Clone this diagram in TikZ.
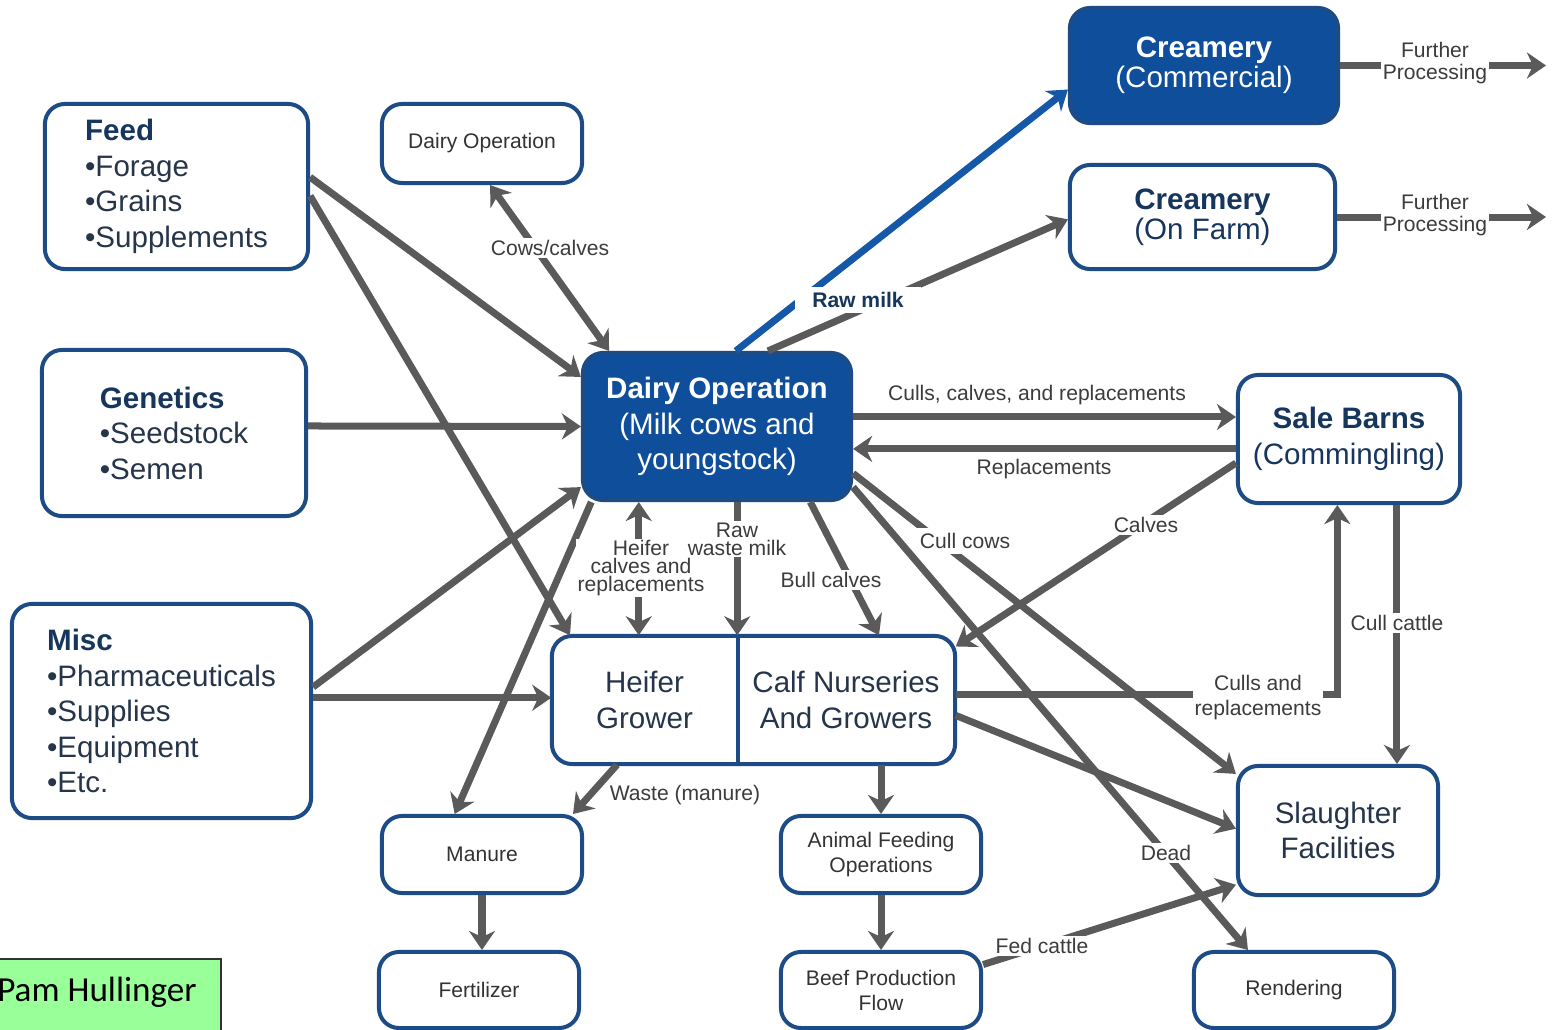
\documentclass[tikz,border=0pt]{standalone}
\usepackage{fontspec}
\setmainfont{Liberation Sans}
\newfontfamily\pamfont{Carlito}
\usetikzlibrary{arrows.meta}

\definecolor{boxblue}{HTML}{1D4B85}
\definecolor{fillblue}{HTML}{0E4E9B}
\definecolor{rawblue}{HTML}{1558A8}
\definecolor{headblue}{HTML}{17365D}
\definecolor{textdark}{HTML}{26354A}
\definecolor{smallgray}{HTML}{333333}
\definecolor{arrowgray}{HTML}{5A5A5A}
\definecolor{lblgray}{HTML}{3C3C3C}
\definecolor{pamgreen}{HTML}{99FF99}

\newcommand{\boxfont}{\fontsize{8.4}{10.1}\selectfont}
\newcommand{\smallboxfont}{\fontsize{6}{7.1}\selectfont}
\newcommand{\lblfont}{\fontsize{6}{7.1}\selectfont}

\tikzset{
  box/.style={draw=boxblue,line width=0.04cm,rounded corners=0.2cm,fill=white,inner sep=0pt,align=center},
  listbox/.style={box,align=left,font=\boxfont,text=textdark},
  bigbox/.style={box,font=\boxfont,text=textdark},
  smallbox/.style={box,font=\smallboxfont,text=smallgray,minimum width=2cm},
  bluebox/.style={box,fill=fillblue,text=white,font=\boxfont},
  flow/.style={draw=arrowgray,line width=0.07cm,-{Stealth[length=0.19cm,width=0.26cm,inset=0.06cm]}},
  dflow/.style={flow,{Stealth[length=0.19cm,width=0.26cm,inset=0.06cm]}-{Stealth[length=0.19cm,width=0.26cm,inset=0.06cm]}},
  blueflow/.style={flow,draw=rawblue},
  lbl/.style={font=\lblfont,text=lblgray,fill=white,inner sep=0.02cm,align=center}
}

\begin{document}
\begin{tikzpicture}[x=0.01cm,y=-0.01cm]

  \useasboundingbox (0,0) rectangle (1553,1030);

  % inputs on the left
  \node[listbox,minimum width=2.63cm,minimum height=1.65cm] (feed) at (176.5,186.5)
    {\textbf{\color{headblue}Feed}\\•Forage\\•Grains\\•Supplements};
  \node[listbox,minimum width=2.64cm,minimum height=1.66cm] (gen) at (174,433)
    {\textbf{\color{headblue}Genetics}\\•Seedstock\\•Semen};
  \node[listbox,minimum width=2.99cm,minimum height=2.14cm] (misc) at (161.5,711)
    {\textbf{\color{headblue}Misc}\\•Pharmaceuticals\\•Supplies\\•Equipment\\•Etc.};

  % dairy and creameries
  \node[smallbox,minimum height=0.79cm] (dairy) at (482,143.5) {Dairy Operation};
  \node[bluebox,minimum width=2.68cm,minimum height=1.47cm] (main) at (717,426.5)
    {\textbf{Dairy Operation}\\(Milk cows and\\youngstock)};
  \node[bluebox,font=\fontsize{8.4}{8.6}\selectfont,minimum width=2.68cm,minimum height=1.15cm] (crc) at (1204,65.5)
    {\textbf{Creamery}\\(Commercial)};
  \node[bigbox,text=headblue,font=\fontsize{8.4}{8.6}\selectfont,minimum width=2.65cm,minimum height=1.04cm] (crf) at (1202.5,217)
    {\textbf{Creamery}\\(On Farm)};
  \node[bigbox,text=headblue,minimum width=2.22cm,minimum height=1.28cm] (sale) at (1349,439)
    {\textbf{Sale Barns}\\(Commingling)};

  % growers
  \node[box,minimum width=4.03cm,minimum height=1.28cm] (grower) at (753.5,700) {};
  \node[font=\boxfont,text=textdark,align=center,minimum width=1.85cm,minimum height=1.28cm,inner sep=0pt] (heifer) at (644.5,700)
    {Heifer\\Grower};
  \node[font=\boxfont,text=textdark,align=center,minimum width=2.18cm,minimum height=1.28cm,inner sep=0pt] (calf) at (846,700)
    {Calf Nurseries\\And Growers};
  \draw[boxblue,line width=0.04cm] (heifer.north east) -- (heifer.south east);

  % outlets
  \node[smallbox,minimum height=0.77cm] (manure) at (482,854.5) {Manure};
  \node[smallbox,minimum height=0.76cm] (fert) at (479,990) {Fertilizer};
  \node[smallbox,minimum height=0.77cm] (afo) at (881,854.5) {Animal Feeding\\Operations};
  \node[smallbox,minimum height=0.76cm] (beef) at (881,990) {Beef Production\\Flow};
  \node[bigbox,minimum width=2cm,minimum height=1.29cm] (slaughter) at (1338,830.5)
    {Slaughter\\Facilities};
  \node[smallbox,minimum height=0.76cm] (rend) at (1294,990) {Rendering};

  \coordinate (fp1) at (1546,65.5);
  \coordinate (fp2) at (1546,217);

  % flows
  \begin{scope}[every edge/.style={flow}]
    \path (feed.4) edge (main.160);
    \path (feed.-4) edge (heifer.139);
    \path (gen.3) edge (main.west);
    \path (misc.9) edge (main.204);
    \path (misc.5) edge (misc.5 -| heifer.west);
    \path (dairy.-79) edge[dflow] (main.145);
    \path (main.76) edge[blueflow] (crc.190);
    \path (main.56) edge (crf.181);
    \path (crc.east) edge (fp1);
    \path (crf.east) edge (fp2);
    \path (main.4) edge (main.4 -| sale.west);
    \path (sale.185) edge (sale.185 -| main.east);
    \path (sale.192) edge (calf.26);
    \path (main.-19) edge (slaughter.151);
    \path (main.-24) edge (rend.139);
    \path (sale.-54) edge (sale.-54 |- slaughter.north);
    \path (calf.-8) edge (slaughter.179);
    \path (main.224) edge[dflow] (main.224 |- heifer.north);
    \path (main.-75) edge (main.-75 |- calf.north);
    \path (main.-39) edge (calf.63);
    \path (main.211) edge (manure.124);
    \path (heifer.-113) edge (manure.24);
    \path (afo.north |- calf.south) edge (afo.north);
    \path (manure.south) edge (manure.south |- fert.north);
    \path (afo.south) edge (beef.north);
    \path (beef.14) edge (slaughter.208);
  \end{scope}
  \draw[flow] (calf.3) -| (sale.260);

  % flow labels
  \node[lbl] (lcows) at (550,248) {Cows/calves};
  \node[lbl,font=\bfseries\lblfont,text=headblue,minimum width=1.25cm,minimum height=0.26cm] (lraw) at (858,300) {Raw milk};
  \node[lbl,font=\fontsize{6}{6.3}\selectfont] (lfp1) at (1435,63) {Further\\Processing};
  \node[lbl,font=\fontsize{6}{6.3}\selectfont] (lfp2) at (1435,215) {Further\\Processing};
  \node[lbl] (lccr) at (1037,395) {Culls, calves, and replacements};
  \node[lbl] (lrep) at (1044,469) {Replacements};
  \node[lbl] (lcalves) at (1146,525) {Calves};
  \node[lbl,inner sep=0.05cm] (lcullcows) at (965,541) {Cull cows};
  \node[lbl,font=\fontsize{6}{5}\selectfont] (lheif) at (641,568) {Heifer\\calves and\\replacements};
  \node[lbl,font=\fontsize{6}{5.1}\selectfont] (lrww) at (737,539) {Raw\\waste milk};
  \node[lbl] (lbull) at (831,580) {Bull calves};
  \node[lbl] (lcullcat) at (1397,623) {Cull cattle};
  \node[lbl] (lcnr) at (1258,698) {Culls and\\replacements};
  \node[lbl] (lwaste) at (685,795) {Waste (manure)};
  \node[lbl] (ldead) at (1166,853) {Dead};
  \node[lbl] (lfed) at (1042,946) {Fed cattle};

  % credit
  \node[draw=black!80,line width=0.015cm,fill=pamgreen,minimum width=2.3cm,minimum height=0.9cm,anchor=north west,inner sep=0pt] (pambox) at (-10,958) {};
  \node[font=\pamfont\fontsize{10}{12}\selectfont,text=black] (pam) at (97,992) {Pam Hullinger};

\end{tikzpicture}
\end{document}
